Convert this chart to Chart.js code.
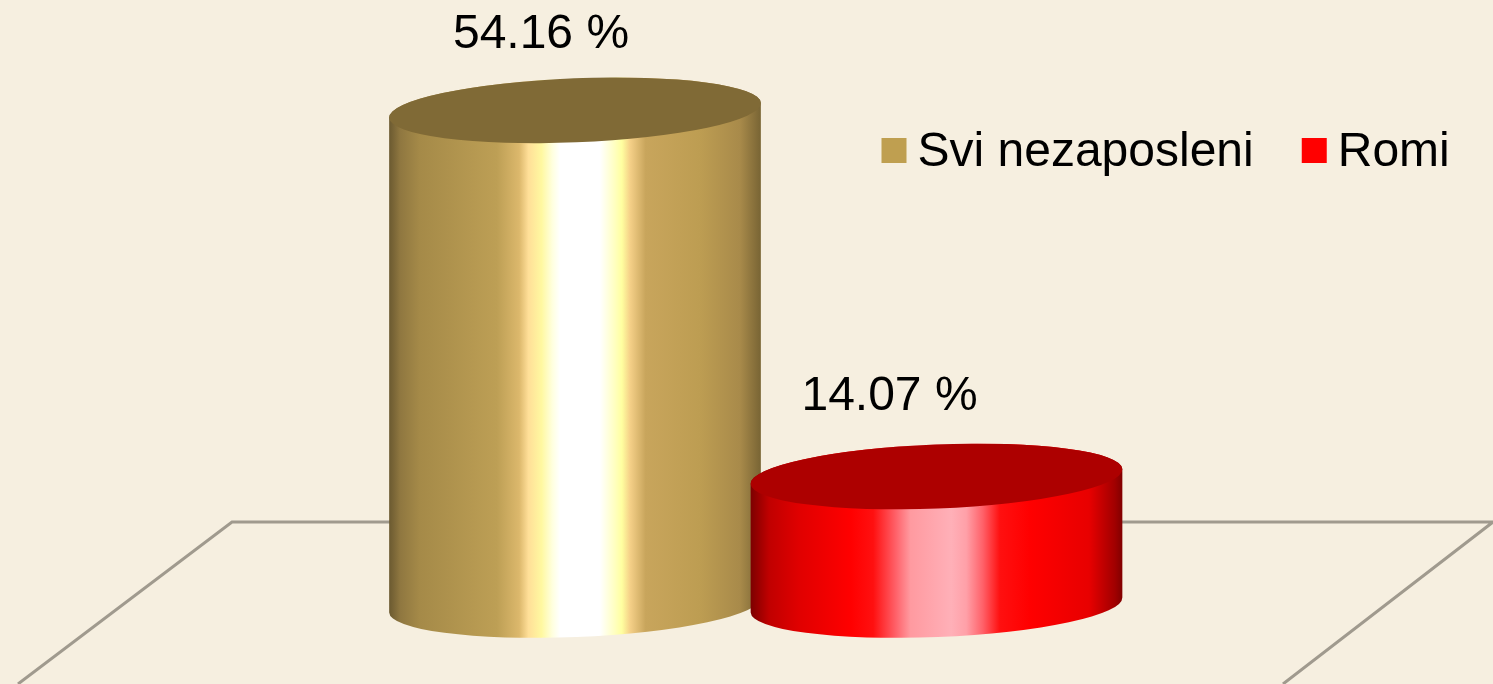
<!DOCTYPE html>
<html>
<head>
<meta charset="utf-8">
<title>Svi nezaposleni / Romi</title>
<script src="https://cdn.jsdelivr.net/npm/chart.js@4"></script>
<style>
  html, body { margin: 0; padding: 0; background: #f6efe0; overflow: hidden; }
  canvas { display: block; }
</style>
</head>
<body>
<canvas id="myChart" width="1493" height="684"></canvas>
<script>
const categories = [""];
const seriesNames = ["Svi nezaposleni", "Romi"];
const sviNezaposleni = [54.16];
const romi = [14.07];

const swatchColors = ["#bf9f50", "#ff0000"];
const topColors = ["#806a36", "#ad0000"];
const sideStops = [
  [[0, "#6a5930"], [0.03, "#8f7740"], [0.083, "#a58a48"], [0.29, "#bd9f55"], [0.35, "#dcb86c"],
   [0.375, "#ffdf98"], [0.41, "#fff8a0"], [0.44, "#ffffe0"], [0.46, "#ffffff"], [0.567, "#ffffff"],
   [0.607, "#ffffc0"], [0.626, "#ffffa0"], [0.648, "#f5d088"], [0.69, "#c8a55c"], [0.836, "#bd9d52"],
   [0.944, "#a88a4a"], [1, "#786434"]],
  [[0, "#7c0000"], [0.05, "#c00000"], [0.13, "#e00000"], [0.27, "#ff0000"], [0.33, "#ff1010"],
   [0.39, "#ff6068"], [0.43, "#ff9aa0"], [0.54, "#ffb0b8"], [0.58, "#ffa0a8"], [0.625, "#ff6068"],
   [0.67, "#ff1010"], [0.75, "#ff0000"], [0.91, "#e80000"], [0.98, "#a00000"], [1, "#800000"]],
];
// where the % labels sit relative to the bar centre / top
const labelShift = [[-34, -76], [-47, -80]];

const font = "'Liberation Sans', Arial, sans-serif";

// swatch canvas is a bit bigger than the square, this nudges the square against the legend text
function swatch(color) {
  const c = document.createElement("canvas");
  c.width = 30;
  c.height = 29;
  const g = c.getContext("2d");
  g.fillStyle = color;
  g.fillRect(4, 0, 25, 25);
  return c;
}

const floorPlugin = {
  id: "floor",
  beforeDatasetsDraw(chart) {
    const { ctx, scales } = chart;
    const y = scales.y.getPixelForValue(0) - 83;
    ctx.save();
    ctx.strokeStyle = "#a09a8e";
    ctx.lineWidth = 3;
    ctx.beginPath();
    ctx.moveTo(18, chart.height);
    ctx.lineTo(232, y);
    ctx.lineTo(chart.width, y);
    ctx.lineTo(1283, chart.height);
    ctx.stroke();
    ctx.restore();
  },
};

const cylinderPlugin = {
  id: "cylinders",
  afterDatasetsDraw(chart) {
    const { ctx } = chart;
    const tilt = -0.04;
    const ry = 32;
    chart.data.datasets.forEach((ds, i) => {
      const bar = chart.getDatasetMeta(i).data[0];
      const rx = bar.width * 0.5145;
      const grad = ctx.createLinearGradient(bar.x - rx, 0, bar.x + rx, 0);
      sideStops[i].forEach(([p, c]) => grad.addColorStop(p, c));

      ctx.save();
      ctx.fillStyle = grad;
      ctx.beginPath();
      ctx.ellipse(bar.x, bar.base, rx, ry, tilt, 0, Math.PI);
      ctx.ellipse(bar.x, bar.y, rx, ry, tilt, Math.PI, Math.PI * 2);
      ctx.closePath();
      ctx.fill();

      ctx.fillStyle = topColors[i];
      ctx.beginPath();
      ctx.ellipse(bar.x, bar.y, rx, ry, tilt, 0, Math.PI * 2);
      ctx.fill();

      ctx.fillStyle = "#000";
      ctx.font = "48px " + font;
      ctx.textAlign = "center";
      ctx.textBaseline = "middle";
      ctx.fillText(ds.data[0].toFixed(2) + " %", bar.x + labelShift[i][0], bar.y + labelShift[i][1]);
      ctx.restore();
    });
  },
};

// legend floats over the plot, so it must not push the chart area down
const legendPlugin = {
  id: "legendSpot",
  beforeLayout(chart) {
    const legend = chart.legend;
    if (legend._fitWrapped) return;
    const fit = legend.fit;
    legend.fit = function () {
      fit.call(this);
      this.height = 57;
    };
    legend._fitWrapped = true;
  },
  afterLayout(chart) {
    chart.legend.left = 833.5;
    chart.legend.top = 70.5;
    chart.legend.bottom = 210;
    chart.legend.right = 1600;
  },
};

const ctx = document.getElementById("myChart").getContext("2d");
const chart = new Chart(ctx, {
  type: "bar",
  data: {
    labels: categories,
    datasets: [
      { label: seriesNames[0], data: sviNezaposleni, backgroundColor: swatchColors[0], barThickness: 361.5 },
      { label: seriesNames[1], data: romi, backgroundColor: swatchColors[1], barThickness: 361.5 },
    ],
  },
  options: {
    responsive: false,
    animation: false,
    layout: { padding: { left: 18.5, bottom: 79 } },
    plugins: {
      tooltip: { enabled: false },
      legend: {
        position: "top",
        align: "start",
        labels: {
          color: "#000",
          font: { family: font, size: 48 },
          padding: 58,
          usePointStyle: true,
          pointStyleWidth: 2,
          generateLabels: (c) =>
            c.data.datasets.map((ds, i) => ({
              text: ds.label,
              datasetIndex: i,
              fontColor: "#000",
              pointStyle: swatch(swatchColors[i]),
              lineWidth: 0,
            })),
        },
      },
    },
    scales: {
      x: { display: false },
      y: { display: false, min: 0, max: 60 },
    },
  },
  plugins: [floorPlugin, cylinderPlugin, legendPlugin],
});
</script>
</body>
</html>
